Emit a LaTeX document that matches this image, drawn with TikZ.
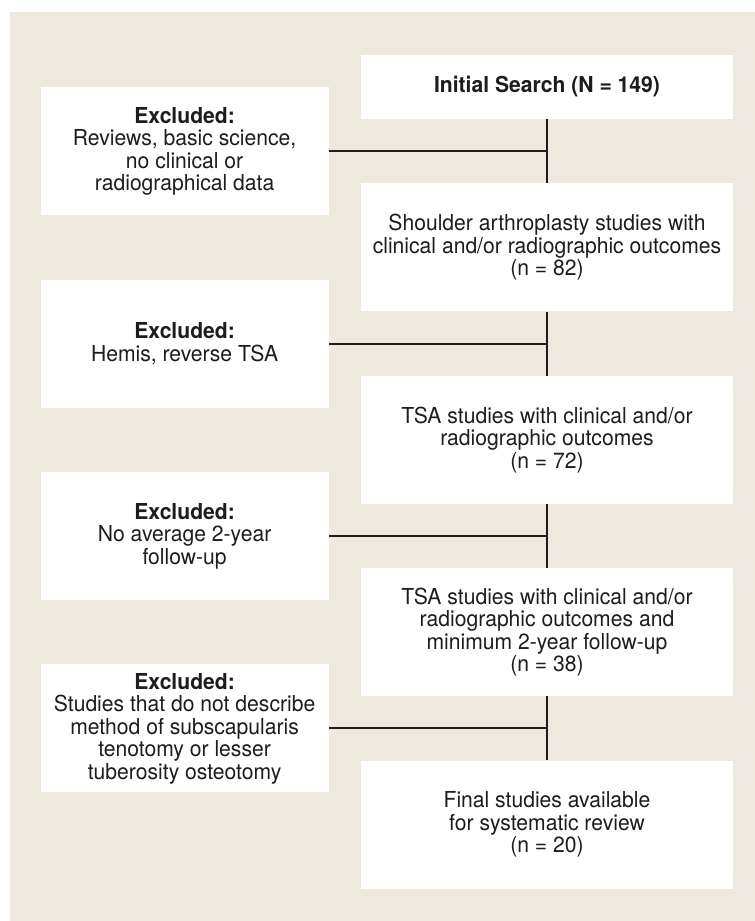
\documentclass[tikz,border=0pt]{standalone}
\usepackage{fontspec}
\setmainfont{TeX Gyre Heros}[FakeStretch=0.96]
\usetikzlibrary{positioning,calc}
\definecolor{paper}{RGB}{237,233,223}
\definecolor{ink}{RGB}{30,28,28}

\begin{document}
\begin{tikzpicture}[
  x=1pt, y=1pt,
  node distance=64pt and 32pt,
  stage/.style={fill=white, minimum width=372pt, minimum height=128pt, inner sep=0pt, align=center, text=ink, font=\fontsize{22}{22.5}\selectfont},
  excl/.style={stage, minimum width=288pt},
  link/.style={draw=ink, line width=2pt}
]
\useasboundingbox (0,0) rectangle (755,-921);
\fill[paper] (9.6,-11.7) rectangle (755,-921);

% main column
\node[stage, minimum height=64pt] (r1) at (547,-87) {\textbf{Initial Search (N = 149)}};
\node[stage, below=of r1] (r2) {Shoulder arthroplasty studies with\\clinical and/or radiographic outcomes\\(n = 82)};
\node[stage, below=of r2] (r3) {TSA studies with clinical and/or\\radiographic outcomes\\(n = 72)};
\node[stage, below=of r3] (r4) {TSA studies with clinical and/or\\radiographic outcomes and\\minimum 2-year follow-up\\(n = 38)};
\node[stage, below=of r4] (r5) {Final studies available\\for systematic review\\(n = 20)};

% exclusions
\coordinate (m1) at ($(r1.south west)!0.5!(r2.north west)$);
\coordinate (m2) at ($(r2.south west)!0.5!(r3.north west)$);
\coordinate (m3) at ($(r3.south west)!0.5!(r4.north west)$);
\coordinate (m4) at ($(r4.south west)!0.5!(r5.north west)$);
\node[excl, left=of m1] (x1) {\textbf{Excluded:}\\Reviews, basic science,\\no clinical or\\radiographical data};
\node[excl, left=of m2] (x2) {\textbf{Excluded:}\\Hemis, reverse TSA};
\node[excl, left=of m3] (x3) {\textbf{Excluded:}\\No average 2-year\\follow-up};
\node[excl, left=of m4] (x4) {\textbf{Excluded:}\\Studies that do not describe\\method of subscapularis\\tenotomy or lesser\\tuberosity osteotomy};

\draw[link] (r1) -- (r2);
\draw[link] (r2) -- (r3);
\draw[link] (r3) -- (r4);
\draw[link] (r4) -- (r5);
\draw[link] (x1.east) -- (x1.east -| r1.south);
\draw[link] (x2.east) -- (x2.east -| r2.south);
\draw[link] (x3.east) -- (x3.east -| r3.south);
\draw[link] (x4.east) -- (x4.east -| r4.south);
\end{tikzpicture}
\end{document}
